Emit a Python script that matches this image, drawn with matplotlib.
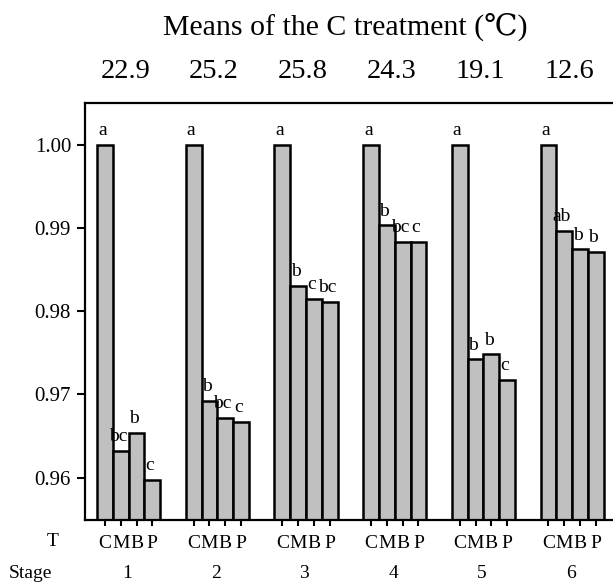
import matplotlib
matplotlib.use("Agg")
import matplotlib.pyplot as plt
import matplotlib.transforms as mtransforms
import numpy as np

plt.rcParams['font.family'] = ['Liberation Serif', 'DejaVu Serif']

stages = ['1', '2', '3', '4', '5', '6']
treatments = ['C', 'M', 'B', 'P']
c_means = ['22.9', '25.2', '25.8', '24.3', '19.1', '12.6']

val_C = [1.0000, 1.0000, 1.0000, 1.0000, 1.0000, 1.0000]
val_M = [0.9632, 0.9692, 0.9830, 0.9903, 0.9742, 0.9896]
val_B = [0.9654, 0.9672, 0.9815, 0.9883, 0.9748, 0.9874]
val_P = [0.9597, 0.9667, 0.9811, 0.9883, 0.9717, 0.9871]

let_C = ['a', 'a', 'a', 'a', 'a', 'a']
let_M = ['bc', 'b', 'b', 'b', 'b', 'ab']
let_B = ['b', 'bc', 'c', 'bc', 'b', 'b']
let_P = ['c', 'c', 'bc', 'c', 'c', 'b']

W, H = 613, 582
fig = plt.figure(figsize=(W / 100, H / 100), dpi=100)
ax = fig.add_axes([85 / W, 1 - 520 / H, (W - 85) / W, (520 - 103) / H])

values = np.array([val_C, val_M, val_B, val_P])   # shape (4, 6)
letters = [let_C, let_M, let_B, let_P]

bar_w = 1.0
step = 5.614
x0 = 0.76
xs_all, labels_all = [], []
for i in range(len(stages)):
    for j in range(len(treatments)):
        left = x0 + i * step + j * bar_w
        v = values[j, i]
        ax.bar(left, v - 0.9, bottom=0.9, width=bar_w, align='edge',
               color='#c0c0c0', edgecolor='black', linewidth=1.8, zorder=2)
        ax.annotate(letters[j][i], xy=(left + 0.5 * bar_w - 0.16, v),
                    xytext=(0, 7), textcoords='offset points',
                    ha='center', va='baseline', fontsize=14)
        xs_all.append(left + 0.5 * bar_w)
        labels_all.append(treatments[j])

ax.set_xlim(0, (W - 85) / 15.8)
ax.set_ylim(0.9549, 1.0050)
ax.set_yticks([0.96, 0.97, 0.98, 0.99, 1.00])
ax.set_yticklabels([f'{t:.2f}' for t in [0.96, 0.97, 0.98, 0.99, 1.00]])
ax.set_xticks(xs_all)
ax.set_xticklabels(labels_all)
ax.tick_params(axis='y', direction='out', length=6, width=1.5, labelsize=15, pad=4)
ax.tick_params(axis='x', direction='out', length=4, width=1.5, labelsize=14, pad=7)
for s in ['left', 'top', 'bottom']:
    ax.spines[s].set_linewidth(1.6)
ax.spines['right'].set_visible(False)

trans = mtransforms.blended_transform_factory(ax.transData, fig.transFigure)
for i in range(len(stages)):
    center = x0 + i * step + 2 * bar_w
    ax.text(center - 0.2, 1 - 72 / H, c_means[i], transform=trans,
            ha='center', va='center', fontsize=20.5)
    ax.text(center - 0.1, 1 - 573 / H, stages[i], transform=trans,
            ha='center', va='center', fontsize=14)

fig.text(53 / W, 1 - 541 / H, 'T', ha='center', va='center', fontsize=14)
fig.text(30 / W, 1 - 573 / H, 'Stage', ha='center', va='center', fontsize=14)
fig.text(345 / W, 1 - 27 / H, 'Means of the C treatment (\u2103)',
         ha='center', va='center', fontsize=21.5)

fig.savefig('out.png', dpi=100)
